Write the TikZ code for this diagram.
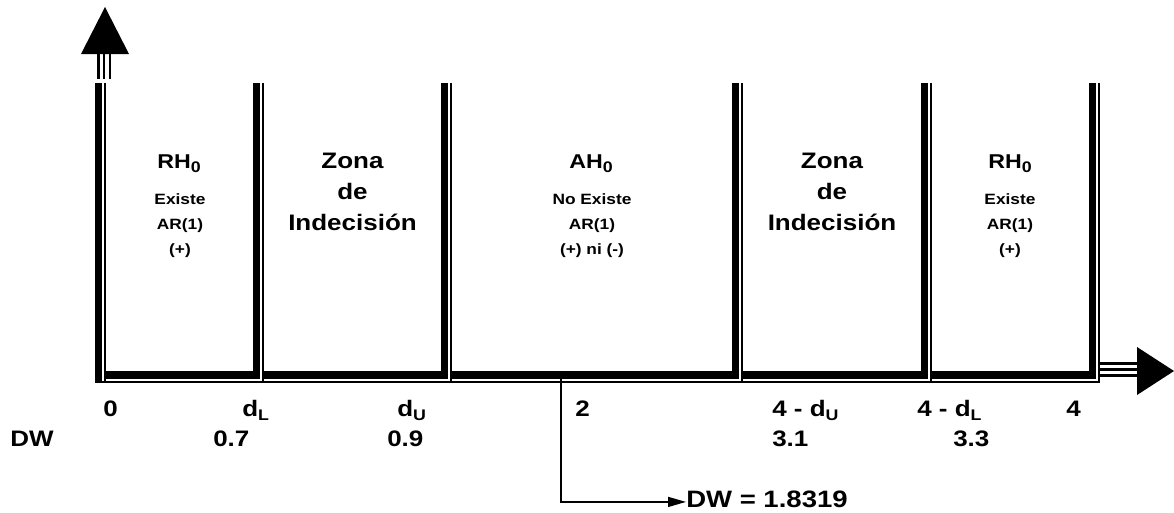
\documentclass[tikz,border=0pt]{standalone}
\usepackage{fontspec}
\setmainfont{Liberation Sans}[FakeStretch=1.16]
\usetikzlibrary{arrows.meta}

\tikzset{
  zonetxt/.style={font=\fontsize{16.8}{22.9}\selectfont\bfseries, align=center, inner sep=0pt, anchor=base},
  hyptxt/.style={font=\fontsize{15}{18}\selectfont\bfseries, inner sep=0pt, anchor=base},
  hypnote/.style={font=\fontsize{11.2}{18.75}\selectfont\bfseries, align=center, inner sep=0pt, anchor=base},
  axlbl/.style={font=\fontsize{16.8}{20}\selectfont\bfseries, inner sep=0pt, anchor=base west},
}
\newcommand{\lowidx}[1]{\raisebox{-3pt}{\fontsize{11.5}{12}\selectfont #1}}

\begin{document}
\begin{tikzpicture}[x=0.75pt,y=-0.75pt]
    \useasboundingbox (0,0) rectangle (1174,512);
    \def\bary{83}
    %% axis and walls
    \fill (95,380.7) rectangle (1099.7,382.7);
    \fill (95,371) rectangle (1096,378.5);
    \fill (95,\bary) rectangle (102,382.7);
    \foreach \x in {95,253,441,732,921,1089}{
        \fill (\x,\bary) rectangle (\x+7,378.5);
        \fill[white] (\x+7,\bary) rectangle (\x+8.7,380.7);
        \fill (\x+8.7,\bary) rectangle (\x+10.7,380.7);
    }
    %% arrows of the axes
    \fill (81,54) -- (129,54) -- (105,7) -- cycle;
    \foreach \s in {97,102.8,108.6}
        \fill (\s,54) rectangle (\s+2.6,79);
    \fill (1137,347) -- (1137,395) -- (1174,371) -- cycle;
    \foreach \s in {362,367.8,373.6}
        \fill (1099.7,\s) rectangle (1137,\s+3);
    %% zones (base = last line)
    \node[hyptxt] (rhL) at (179,168) {RH\lowidx{0}};
    \node[hypnote] (rhLnote) at (180,254) {Existe\\AR(1)\\(+)};
    \node[zonetxt] (zonaL) at (352.5,230) {Zona\\de\\Indecisión};
    \node[hyptxt] (ah) at (591,168) {AH\lowidx{0}};
    \node[hypnote] (ahnote) at (592,254) {No Existe\\AR(1)\\(+) ni (-)};
    \node[zonetxt] (zonaR) at (832,230) {Zona\\de\\Indecisión};
    \node[hyptxt] (rhR) at (1010,168) {RH\lowidx{0}};
    \node[hypnote] (rhRnote) at (1010,254) {Existe\\AR(1)\\(+)};
    %% labels
    \foreach \x/\t/\n in {103/0/lzero, 242/d\lowidx{L}/ldl, 397/d\lowidx{U}/ldu, 575/2/ltwo,
                          772/4 - d\lowidx{U}/lfdu, 917/4 - d\lowidx{L}/lfdl, 1066/4/lfour}
        \node[axlbl] (\n) at (\x,416.5) {\t};
    \foreach \x/\t/\n in {10/DW/vdw, 213/0.7/vdl, 387/0.9/vdu, 772/3.1/vfdu, 953/3.3/vfdl}
        \node[axlbl] (\n) at (\x,446) {\t};
    %% statistic
    \node[axlbl, font=\fontsize{17.8}{20}\selectfont\bfseries] (dwval) at (686,507) {DW = 1.8319};
    \coordinate (dwfoot) at (561,371);
    \draw[line width=1.1pt,-{Triangle[length=13.5pt,width=7.5pt]}] (dwfoot) |- ([yshift=-2.3pt]dwval.west);
\end{tikzpicture}
\end{document}
